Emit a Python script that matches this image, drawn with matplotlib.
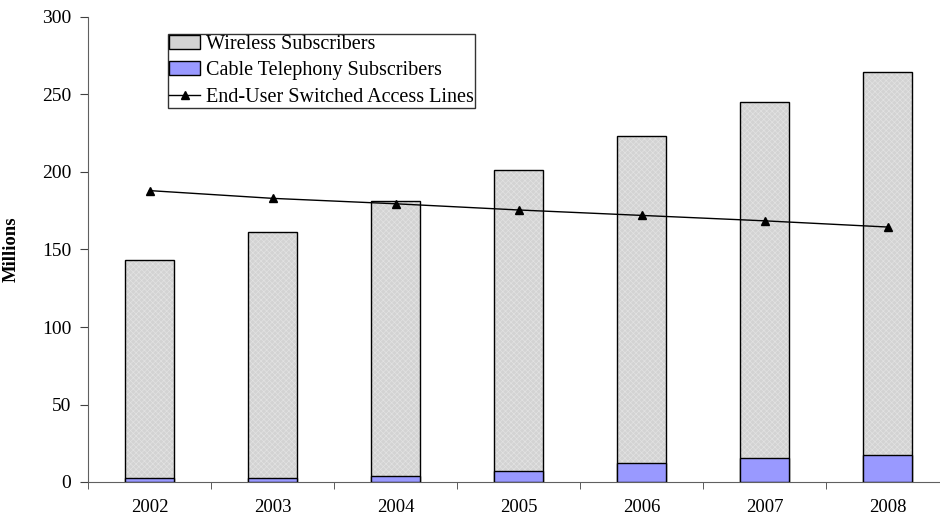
import numpy as np
import matplotlib.pyplot as plt
import matplotlib.patches as mpatches

plt.rcParams['font.family'] = ['Liberation Serif', 'DejaVu Serif']
plt.rcParams['hatch.linewidth'] = 0.5

years = ['2002', '2003', '2004', '2005', '2006', '2007', '2008']
wireless = [143, 161, 181, 201.5, 223.5, 245, 264.5]
cable = [2.3, 2.6, 3.8, 7.0, 12.0, 15.2, 17.4]
switched_lines = [188, 183, 179.5, 175.5, 172, 168.5, 164.5]

fig = plt.figure(figsize=(9.4, 5.15), dpi=100)
ax = fig.add_axes([88 / 940, 33 / 515, 861 / 940, 465 / 515])

x = np.arange(len(years))
width = 0.4

# stippled fill first (edgecolor drives the hatch colour), then the black outline
ax.bar(x, wireless, width, color='#d3d3d3', edgecolor='#e2e2e2', linewidth=0,
       hatch='xxxxxx', zorder=2)
ax.bar(x, wireless, width, facecolor='none', edgecolor='black',
       linewidth=1.0, zorder=2.5)
cb = ax.bar(x, cable, width, color='#9999ff', edgecolor='black', linewidth=1.0,
            zorder=3)
ln, = ax.plot(x, switched_lines, color='black', linewidth=1.0, marker='^',
              markersize=6, zorder=4)

ax.set_xlim(-0.5, len(years) - 0.5)
ax.set_ylim(0, 300)
ax.set_yticks(np.arange(0, 301, 50))
ax.set_xticks(x)
ax.set_xticklabels(years)
ax.set_xticks(np.arange(-0.5, len(years), 1.0), minor=True)
ax.tick_params(axis='x', which='major', length=0, pad=12, labelsize=13.5)
ax.tick_params(axis='x', which='minor', length=5, direction='out', color='#404040')
ax.tick_params(axis='y', length=6, direction='out', labelsize=14, pad=6,
               color='#404040')

for side in ['top', 'right']:
    ax.spines[side].set_visible(False)
ax.spines['left'].set_color('#606060')
ax.spines['bottom'].set_color('#606060')

ax.set_ylabel('Millions', fontsize=13.5, fontweight='bold')
ax.yaxis.set_label_coords(-68 / 861, 0.5)

# legend swatch mimics the stippled bar
wl_handle = mpatches.Patch(facecolor='#d3d3d3', edgecolor='black', linewidth=1.0)
leg = ax.legend([wl_handle, cb, ln],
                ['Wireless Subscribers', 'Cable Telephony Subscribers',
                 'End-User Switched Access Lines'],
                loc='upper left', bbox_to_anchor=(80 / 861, 448 / 465),
                fontsize=14.5, frameon=True, fancybox=False, borderpad=0.05,
                labelspacing=0.36, handlelength=1.55, handletextpad=0.3,
                borderaxespad=0)
leg.get_frame().set_edgecolor('black')
leg.get_frame().set_linewidth(1.0)

fig.savefig('out.png', dpi=100)
